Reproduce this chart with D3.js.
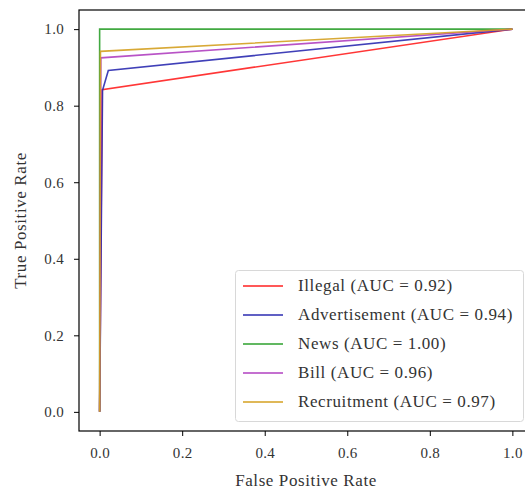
<!DOCTYPE html>
<html>
<head>
<meta charset="utf-8">
<script src="https://cdn.jsdelivr.net/npm/d3@7"></script>
<style>
  body { margin: 0; background: #fff; }
  svg text { font-family: "Liberation Serif", "DejaVu Serif", serif; }
</style>
</head>
<body>
<div id="chart"></div>
<script>
// ROC curves, one per class
var class_names = ["Illegal", "Advertisement", "News", "Bill", "Recruitment"];
var auc_values = [0.92, 0.94, 1.00, 0.96, 0.97];
var line_colors = ["#ff2020", "#2b2bb0", "#2ca02c", "#b040c0", "#d4a020"];

var fpr_illegal = [0, 0.006, 1];
var tpr_illegal = [0, 0.842, 1];
var fpr_advert = [0, 0.007, 0.021, 1];
var tpr_advert = [0, 0.84, 0.892, 1];
var fpr_news = [0, 0, 1];
var tpr_news = [0, 1, 1];
var fpr_bill = [0, 0.003, 1];
var tpr_bill = [0, 0.925, 1];
var fpr_recruit = [0, 0.002, 1];
var tpr_recruit = [0, 0.942, 1];

var tick_values = [0, 0.2, 0.4, 0.6, 0.8, 1.0];

var all_fpr = [fpr_illegal, fpr_advert, fpr_news, fpr_bill, fpr_recruit];
var all_tpr = [tpr_illegal, tpr_advert, tpr_news, tpr_bill, tpr_recruit];

var width = 525, height = 490;
var left = 79, top_ = 10, right = 533, bottom = 431;

var svg = d3.select("#chart").append("svg")
  .attr("width", width)
  .attr("height", height);

var x = d3.scaleLinear().domain([-0.05, 1.05]).range([left, right]);
var y = d3.scaleLinear().domain([-0.05, 1.05]).range([bottom, top_]);

// curves
var line = d3.line()
  .x(function(d) { return x(d[0]); })
  .y(function(d) { return y(d[1]); });

for (let i = 0; i < class_names.length; i++) {
  let pts = all_fpr[i].map(function(f, j) { return [f, all_tpr[i][j]]; });
  svg.append("path")
    .attr("d", line(pts))
    .attr("fill", "none")
    .attr("stroke", line_colors[i])
    .attr("stroke-width", 1.6)
    .attr("stroke-opacity", 0.9);
}

// axes
var fmt = d3.format(".1f");
var xAxis = svg.append("g")
  .attr("transform", "translate(0," + bottom + ")")
  .call(d3.axisBottom(x).tickValues(tick_values).tickFormat(fmt).tickSize(5).tickSizeOuter(0));
var yAxis = svg.append("g")
  .attr("transform", "translate(" + left + ",0)")
  .call(d3.axisLeft(y).tickValues(tick_values).tickFormat(fmt).tickSize(5).tickSizeOuter(0));

[xAxis, yAxis].forEach(function(a) {
  a.select(".domain").remove();
  a.selectAll(".tick line").attr("stroke", "#000").attr("stroke-width", 1);
  a.selectAll(".tick text")
    .attr("fill", "#333")
    .style("font-size", "15px")
    .style("letter-spacing", "0.3px");
});
xAxis.selectAll(".tick text").attr("dy", "1.25em");
yAxis.selectAll(".tick text").attr("x", -15);

// spines
svg.append("rect")
  .attr("x", left).attr("y", top_)
  .attr("width", right - left).attr("height", bottom - top_)
  .attr("fill", "none")
  .attr("stroke", "#000")
  .attr("stroke-width", 1.2);

// axis titles
svg.append("text")
  .attr("x", (left + right) / 2)
  .attr("y", 486)
  .attr("text-anchor", "middle")
  .attr("fill", "#333")
  .style("font-size", "17px")
  .style("letter-spacing", "0.6px")
  .text("False Positive Rate");

svg.append("text")
  .attr("transform", "translate(26," + ((top_ + bottom) / 2) + ") rotate(-90)")
  .attr("text-anchor", "middle")
  .attr("fill", "#333")
  .style("font-size", "17px")
  .style("letter-spacing", "0.6px")
  .text("True Positive Rate");

// legend
var legend = svg.append("g");
legend.append("rect")
  .attr("x", 235.5).attr("y", 270.5)
  .attr("width", 288).attr("height", 151)
  .attr("rx", 3)
  .attr("fill", "#fff")
  .attr("fill-opacity", 0.8)
  .attr("stroke", "#d8d8d8");

class_names.forEach(function(name, i) {
  let yy = 286 + i * 29;
  legend.append("line")
    .attr("x1", 243).attr("x2", 283)
    .attr("y1", yy).attr("y2", yy)
    .attr("stroke", line_colors[i])
    .attr("stroke-width", 1.6);
  legend.append("text")
    .attr("x", 298).attr("y", yy + 5)
    .attr("fill", "#333")
    .style("font-size", "17px")
    .style("letter-spacing", "0.6px")
    .text(name + " (AUC = " + auc_values[i].toFixed(2) + ")");
});
</script>
</body>
</html>
